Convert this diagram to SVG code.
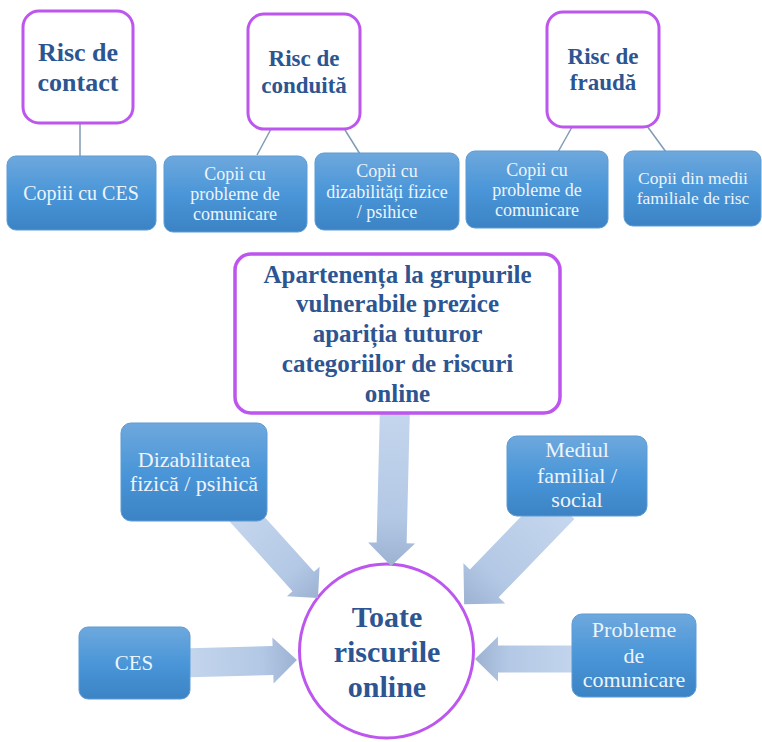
<svg xmlns="http://www.w3.org/2000/svg" width="762" height="742" viewBox="0 0 762 742">
<defs>
<linearGradient id="gBlue" x1="0" y1="0" x2="0" y2="1">
<stop offset="0" stop-color="#6ea8dd"/>
<stop offset="0.5" stop-color="#4a96d8"/>
<stop offset="1" stop-color="#3b83c5"/>
</linearGradient>
<linearGradient id="gArrow" x1="0" y1="0" x2="1" y2="0">
<stop offset="0" stop-color="#c6d7ee"/>
<stop offset="0.7" stop-color="#b3c8e5"/>
<stop offset="1" stop-color="#9cb2d1"/>
</linearGradient>
<style>
.risk{fill:#ffffff;stroke:#bd56ee;stroke-width:3}
.blue{fill:url(#gBlue);stroke:#5d9bd3;stroke-width:1}
.ttl{font-family:"Liberation Serif",serif;font-weight:bold;fill:#2c5591;text-anchor:middle}
.lbl{font-family:"Liberation Serif",serif;fill:#eef4fb;text-anchor:middle}
.ln{stroke:#7f9bb5;stroke-width:1.5;fill:none}
.arr{fill:url(#gArrow)}
</style>
</defs>
<rect width="762" height="742" fill="#ffffff"/>

<g id="node-toate">
<circle class="risk" cx="386.5" cy="651" r="87"/>
<text class="ttl" font-size="30" x="387" y="627">Toate</text>
<text class="ttl" font-size="30" x="387" y="662">riscurile</text>
<text class="ttl" font-size="30" x="387" y="697">online</text>
</g>

<g id="connectors">
<line class="ln" x1="80" y1="123" x2="80" y2="156"/>
<line class="ln" x1="271" y1="129" x2="257" y2="155"/>
<line class="ln" x1="345" y1="130" x2="360" y2="154"/>
<line class="ln" x1="572" y1="127" x2="558" y2="152"/>
<line class="ln" x1="647" y1="126" x2="666" y2="152"/>
<path class="arr" transform="translate(395,405) rotate(91.4)" d="M0,-15 L138,-15 L138,-23.5 L161,0 L138,23.5 L138,15 L0,15 Z"/>
<path class="arr" transform="translate(237,508) rotate(48)" d="M0,-14.5 L99,-14.5 L99,-22 L121,0 L99,22 L99,14.5 L0,14.5 Z"/>
<path class="arr" transform="translate(560,505) rotate(134)" d="M0,-20 L109,-20 L109,-29 L138,0 L109,29 L109,20 L0,20 Z"/>
<path class="arr" transform="translate(180,663) rotate(-1.5)" d="M0,-14.5 L93,-14.5 L93,-23 L117,0 L93,23 L93,14.5 L0,14.5 Z"/>
<path class="arr" transform="translate(585,659) rotate(180)" d="M0,-13.5 L87,-13.5 L87,-22.5 L110,0 L87,22.5 L87,13.5 L0,13.5 Z"/>
</g>

<g id="node-risc-contact">
<rect class="risk" x="23" y="11" width="110" height="112" rx="16"/>
<text class="ttl" font-size="26" x="78" y="61">Risc de</text>
<text class="ttl" font-size="26" x="78" y="91">contact</text>
</g>
<g id="node-risc-conduita">
<rect class="risk" x="248" y="14" width="112" height="115" rx="16"/>
<text class="ttl" font-size="23" x="304" y="66">Risc de</text>
<text class="ttl" font-size="23" x="304" y="93">conduită</text>
</g>
<g id="node-risc-frauda">
<rect class="risk" x="547" y="12" width="112" height="115" rx="16"/>
<text class="ttl" font-size="23" x="603" y="64">Risc de</text>
<text class="ttl" font-size="23" x="603" y="90">fraudă</text>
</g>

<g id="node-copiii-ces">
<rect class="blue" x="7" y="156" width="149" height="74" rx="9"/>
<text class="lbl" font-size="20" x="81" y="200">Copiii cu CES</text>
</g>
<g id="node-copii-comunicare-1">
<rect class="blue" x="164" y="156" width="143" height="76" rx="9"/>
<text class="lbl" font-size="18" x="235" y="180">Copii cu</text>
<text class="lbl" font-size="18" x="235" y="200">probleme de</text>
<text class="lbl" font-size="18" x="235" y="220">comunicare</text>
</g>
<g id="node-copii-dizabilitati">
<rect class="blue" x="315" y="153" width="144" height="77" rx="9"/>
<text class="lbl" font-size="18" x="387" y="177">Copii cu</text>
<text class="lbl" font-size="18" x="387" y="198">dizabilități fizice</text>
<text class="lbl" font-size="18" x="387" y="218">/ psihice</text>
</g>
<g id="node-copii-comunicare-2">
<rect class="blue" x="466" y="151" width="142" height="77" rx="9"/>
<text class="lbl" font-size="18" x="537" y="176">Copii cu</text>
<text class="lbl" font-size="18" x="537" y="196">probleme de</text>
<text class="lbl" font-size="18" x="537" y="216">comunicare</text>
</g>
<g id="node-copii-medii">
<rect class="blue" x="624" y="151" width="137" height="75" rx="9"/>
<text class="lbl" font-size="17.5" x="693" y="184">Copii din medii</text>
<text class="lbl" font-size="17.5" x="693" y="204">familiale de risc</text>
</g>

<g id="node-apartenenta">
<rect class="risk" style="stroke-width:3.5" x="235" y="254" width="325" height="159" rx="16"/>
<text class="ttl" font-size="25" x="397.5" y="283">Apartenența la grupurile</text>
<text class="ttl" font-size="25" x="397.5" y="312">vulnerabile prezice</text>
<text class="ttl" font-size="25" x="397.5" y="342">apariția tuturor</text>
<text class="ttl" font-size="25" x="397.5" y="372">categoriilor de riscuri</text>
<text class="ttl" font-size="25" x="397.5" y="402">online</text>
</g>

<g id="node-dizabilitatea">
<rect class="blue" x="121" y="423" width="146" height="98" rx="10"/>
<text class="lbl" font-size="22" x="194" y="467">Dizabilitatea</text>
<text class="lbl" font-size="22" x="194" y="491">fizică / psihică</text>
</g>
<g id="node-mediul">
<rect class="blue" x="507" y="436" width="140" height="80" rx="10"/>
<text class="lbl" font-size="22" x="577" y="457">Mediul</text>
<text class="lbl" font-size="22" x="577" y="483">familial /</text>
<text class="lbl" font-size="22" x="577" y="507">social</text>
</g>
<g id="node-ces">
<rect class="blue" x="79" y="627" width="111" height="72" rx="9"/>
<text class="lbl" font-size="21" x="134" y="670">CES</text>
</g>
<g id="node-probleme">
<rect class="blue" x="572" y="614" width="124" height="83" rx="10"/>
<text class="lbl" font-size="22" x="634" y="637">Probleme</text>
<text class="lbl" font-size="22" x="634" y="663">de</text>
<text class="lbl" font-size="22" x="634" y="687">comunicare</text>
</g>
</svg>
